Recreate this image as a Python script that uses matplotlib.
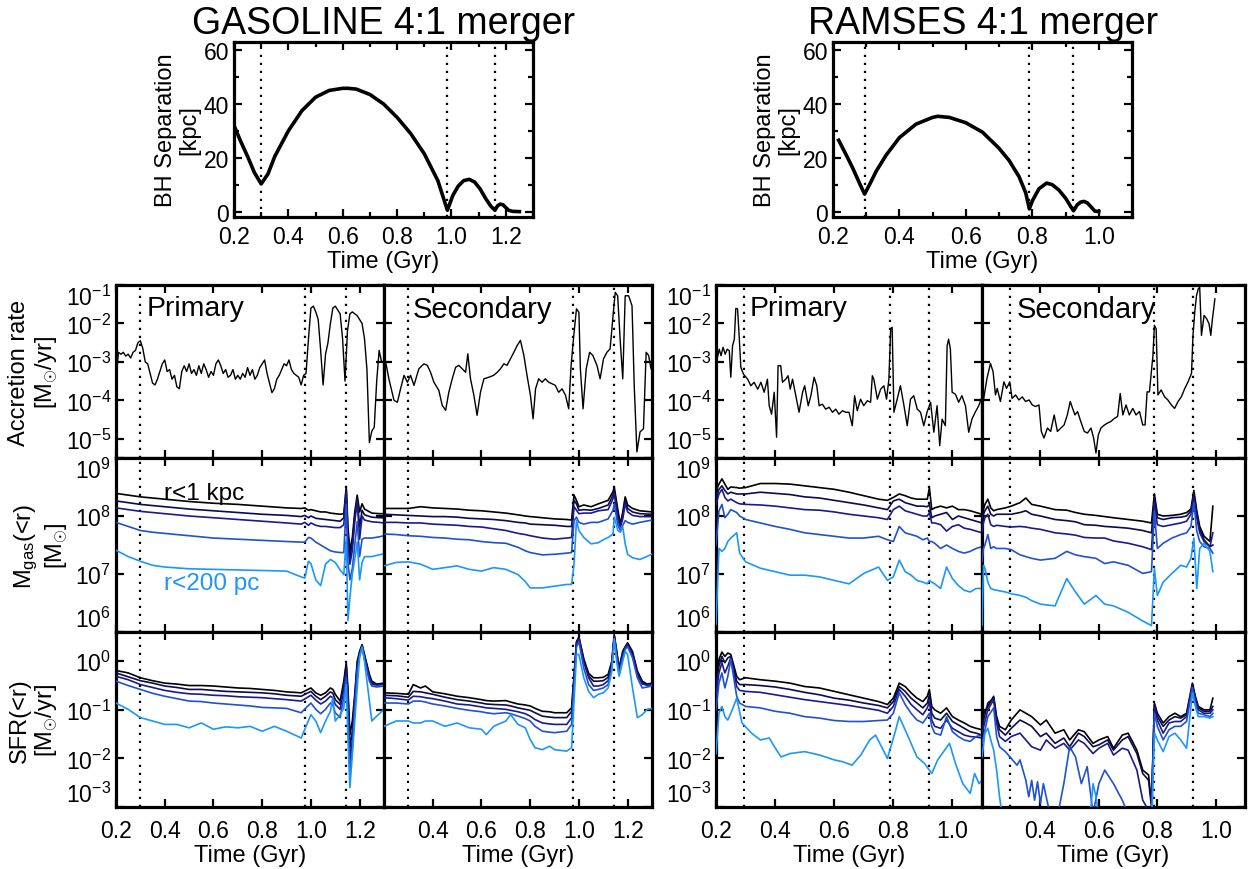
import numpy as np
import matplotlib
matplotlib.use("Agg")
import matplotlib.pyplot as plt
from matplotlib.ticker import (NullLocator, MultipleLocator, FixedLocator, NullFormatter,
                               FormatStrFormatter, LogFormatterSciNotation)

plt.rcParams['font.family'] = ['Liberation Sans', 'DejaVu Sans']
plt.rcParams['mathtext.fontset'] = 'custom'
plt.rcParams['mathtext.rm'] = 'Liberation Sans'
plt.rcParams['mathtext.it'] = 'Liberation Sans:italic'
plt.rcParams['mathtext.bf'] = 'Liberation Sans:bold'

# ---------------- data (times in Gyr, log10 values for the rate/mass panels) -------------
GAS_SEP_T = [0.20, 0.225, 0.25, 0.275, 0.30, 0.325, 0.35, 0.40, 0.45, 0.50, 0.55, 0.60, 0.62, 0.65,
             0.70, 0.75, 0.80, 0.85, 0.90, 0.95, 0.985, 1.005, 1.025, 1.045, 1.065, 1.085, 1.105,
             1.125, 1.145, 1.16, 1.17, 1.18, 1.19, 1.20, 1.21, 1.225, 1.25]
GAS_SEP = [32, 26, 20.5, 14.5, 10.3, 14, 20.5, 30, 37.5, 42.5, 45, 45.8, 45.8, 45.5, 43.5, 40, 35,
           29, 21.5, 11.5, 0.5, 6, 9.5, 11.5, 12, 11, 8.5, 5, 2, 0.5, 2.2, 2.8, 2.5, 1.5, 0.5, 0.1, 0]
RAM_SEP_T = [0.217, 0.24, 0.26, 0.28, 0.295, 0.31, 0.33, 0.36, 0.40, 0.45, 0.50, 0.515, 0.55, 0.60,
             0.65, 0.70, 0.73, 0.76, 0.78, 0.791, 0.80, 0.82, 0.843, 0.86, 0.88, 0.90, 0.915, 0.924,
             0.935, 0.945, 0.955, 0.965, 0.975, 0.988, 1.0]
RAM_SEP = [26.5, 21, 16, 10.5, 6.5, 10, 15, 21, 27.5, 32.5, 35, 35.4, 35, 33, 29.5, 23.5, 19, 13, 7,
           1, 4, 8.5, 10.6, 10, 8, 5, 2, 0.3, 2.5, 3.5, 3.8, 3.3, 2, 0.2, 0]

GAS_EVENTS_TOP = [0.30, 0.985, 1.16]
GAS_EVENTS = [0.30, 0.975, 1.145]
RAM_EVENTS = [0.295, 0.79, 0.922]

# accretion rate, log10(Msun/yr)
GP_ACC_T = np.round(np.arange(0.20, 1.295, 0.01), 2)
GP_ACC = [-3.5, -2.75, -2.8, -2.75, -2.85, -2.8, -2.9, -2.75, -2.7, -2.5,
          -2.45, -2.65, -3.0, -3.05, -3.3, -3.55, -3.6, -3.45, -3.25, -3.05,
          -2.95, -3.25, -3.2, -3.45, -3.35, -3.65, -3.7, -3.25, -3.1, -3.25,
          -3.05, -3.3, -3.2, -3.35, -3.1, -3.3, -3.05, -3.2, -3.4, -3.25,
          -3.35, -3.05, -2.95, -3.1, -3.3, -3.2, -3.4, -3.35, -3.2, -3.45,
          -3.35, -3.45, -3.3, -3.4, -3.15, -3.35, -3.2, -3.45, -3.35, -3.15,
          -3.05, -2.95, -3.3, -3.55, -3.8, -3.7, -3.45, -3.35, -3.2, -3.05,
          -3.1, -2.95, -3.2, -3.3, -3.35, -3.4, -3.6, -3.35, -3.3, -2.4,
          -1.6, -1.55, -1.7, -1.9, -2.7, -3.6, -2.8, -2.5, -2.0, -1.6,
          -1.55, -1.65, -1.75, -2.4, -3.5, -2.2, -1.75, -1.7, -1.75, -1.8,
          -1.9, -2.0, -2.4, -3.2, -5.1, -4.8, -4.7, -3.5, -2.7, -3.0]
GS_ACC_T = [0.207, 0.22, 0.241, 0.255, 0.268, 0.282, 0.296, 0.309, 0.323, 0.343, 0.364, 0.378, 0.391,
            0.405, 0.425, 0.439, 0.453, 0.466, 0.48, 0.494, 0.507, 0.521, 0.535, 0.544, 0.555, 0.569,
            0.582, 0.596, 0.61, 0.63, 0.65, 0.665, 0.678, 0.692, 0.705, 0.719, 0.733, 0.747, 0.76,
            0.774, 0.787, 0.801, 0.812, 0.822, 0.835, 0.849, 0.862, 0.876, 0.89, 0.903, 0.917, 0.931,
            0.945, 0.958, 0.968, 0.979, 0.99, 1.0, 1.006, 1.017, 1.03, 1.044, 1.057, 1.074, 1.087,
            1.101, 1.115, 1.128, 1.139, 1.149, 1.159, 1.17, 1.18, 1.19, 1.204, 1.218, 1.227, 1.238,
            1.251, 1.265, 1.276, 1.286, 1.296]
GS_ACC = [-3.01, -3.44, -4.0, -4.05, -3.70, -3.35, -3.53, -3.35, -3.61, -3.18, -3.05, -3.09, -3.27,
          -3.53, -3.74, -4.13, -4.26, -3.79, -3.44, -3.14, -3.09, -3.18, -3.27, -2.79, -3.44, -3.87,
          -4.39, -3.79, -3.44, -3.40, -3.35, -3.27, -3.18, -3.05, -3.09, -2.92, -2.75, -2.57, -2.44,
          -2.83, -3.35, -3.87, -4.48, -3.70, -3.44, -3.53, -3.44, -3.53, -3.57, -3.61, -3.79, -3.70,
          -3.87, -4.22, -3.09, -2.31, -1.62, -1.71, -3.18, -4.22, -3.18, -2.75, -2.83, -3.09, -3.44,
          -2.92, -2.75, -2.66, -1.88, -1.19, -1.28, -2.49, -3.44, -1.28, -1.28, -1.54, -3.61, -5.34,
          -4.82, -4.74, -2.75, -2.83, -3.18]
RP_ACC_T = [0.20, 0.211, 0.217, 0.224, 0.231, 0.238, 0.245, 0.25, 0.256, 0.262, 0.267, 0.273, 0.279,
            0.284, 0.293, 0.307, 0.318, 0.329, 0.341, 0.352, 0.363, 0.374, 0.38, 0.388, 0.397, 0.405,
            0.41, 0.419, 0.425, 0.436, 0.444, 0.451, 0.459, 0.47, 0.481, 0.493, 0.5, 0.512, 0.521,
            0.532, 0.541, 0.549, 0.56, 0.571, 0.583, 0.594, 0.605, 0.616, 0.628, 0.639, 0.65, 0.661,
            0.669, 0.678, 0.689, 0.7, 0.712, 0.723, 0.729, 0.734, 0.746, 0.757, 0.768, 0.777, 0.785,
            0.791, 0.796, 0.802, 0.813, 0.824, 0.836, 0.847, 0.858, 0.869, 0.881, 0.892, 0.903, 0.914,
            0.926, 0.937, 0.948, 0.957, 0.965, 0.976, 0.982, 0.987, 0.993, 0.999, 1.01, 1.021, 1.032,
            1.044, 1.055, 1.066, 1.077, 1.089, 1.097]
RP_ACC = [-3.06, -2.67, -2.84, -2.62, -2.80, -2.67, -2.71, -3.40, -2.58, -2.41, -1.61, -1.62, -2.41,
          -3.14, -3.32, -3.45, -3.62, -3.53, -3.71, -3.53, -3.79, -3.45, -4.14, -4.36, -3.79, -4.96,
          -3.10, -3.10, -3.53, -3.45, -3.36, -3.71, -3.45, -3.88, -4.31, -3.79, -3.62, -4.14, -3.88,
          -3.40, -3.62, -4.14, -4.10, -4.23, -4.18, -4.31, -4.23, -4.36, -4.27, -4.31, -4.31, -4.66,
          -3.88, -4.27, -3.97, -4.14, -4.01, -4.05, -3.36, -3.45, -3.97, -3.71, -3.62, -3.97, -3.45,
          -2.14, -2.10, -4.31, -3.97, -3.62, -4.14, -4.66, -3.97, -3.88, -4.23, -4.31, -4.66, -4.31,
          -4.05, -4.83, -4.14, -5.18, -4.49, -4.66, -2.58, -2.41, -2.67, -3.79, -3.84, -4.05, -3.88,
          -4.14, -4.83, -4.49, -4.31, -4.14, -3.97]
RS_ACC_T = [0.206, 0.217, 0.229, 0.238, 0.246, 0.252, 0.263, 0.275, 0.284, 0.295, 0.303, 0.315, 0.326,
            0.338, 0.349, 0.361, 0.372, 0.383, 0.395, 0.403, 0.412, 0.424, 0.435, 0.447, 0.458, 0.47,
            0.481, 0.492, 0.502, 0.51, 0.518, 0.527, 0.538, 0.55, 0.561, 0.573, 0.582, 0.59, 0.598,
            0.607, 0.619, 0.63, 0.641, 0.653, 0.664, 0.673, 0.682, 0.693, 0.704, 0.716, 0.727, 0.739,
            0.75, 0.758, 0.765, 0.773, 0.785, 0.79, 0.796, 0.802, 0.813, 0.825, 0.836, 0.848, 0.859,
            0.871, 0.882, 0.894, 0.905, 0.917, 0.922, 0.928, 0.934, 0.94, 0.945, 0.951, 0.96, 0.969,
            0.977, 0.983, 0.988, 0.997]
RS_ACC = [-3.95, -3.43, -3.04, -3.26, -3.86, -3.69, -4.03, -3.52, -3.69, -3.52, -3.95, -3.86, -3.99,
          -3.91, -4.03, -3.99, -4.12, -4.16, -4.12, -4.81, -4.98, -4.72, -4.81, -4.38, -4.81, -4.72,
          -4.64, -4.38, -4.03, -4.21, -4.38, -4.29, -4.55, -4.81, -4.85, -4.72, -4.98, -5.37, -4.90,
          -4.72, -4.64, -4.59, -4.55, -4.47, -4.42, -3.82, -4.38, -4.12, -4.38, -4.21, -4.38, -4.29,
          -4.64, -4.64, -3.78, -3.78, -2.83, -2.05, -2.14, -3.86, -3.73, -3.91, -3.99, -4.12, -4.21,
          -4.03, -3.91, -3.69, -3.52, -3.30, -2.31, -1.71, -1.28, -1.10, -1.06, -2.31, -1.79, -1.88,
          -2.01, -2.31, -1.92, -1.36]

# gas mass within r (r<1 kpc ... r<200 pc), log10(Msun)
GP_MGAS_T = [0.20, 0.25, 0.30, 0.35, 0.40, 0.50, 0.60, 0.70, 0.80, 0.90, 0.96, 0.975, 0.99, 1.00, 1.02,
             1.04, 1.06, 1.08, 1.10, 1.12, 1.135, 1.145, 1.152, 1.16, 1.17, 1.18, 1.19, 1.20, 1.21,
             1.22, 1.25, 1.28, 1.30]
GP_MGAS_1 = [8.39, 8.36, 8.33, 8.31, 8.29, 8.25, 8.22, 8.20, 8.17, 8.14, 8.13, 8.14, 8.10, 8.11, 8.09,
             8.07, 8.07, 8.05, 8.04, 8.03, 8.04, 8.50, 7.81, 7.40, 7.63, 8.07, 8.36, 8.07, 8.21, 8.12,
             8.05, 8.04, 8.04]
GP_MGAS_2 = [8.26, 8.23, 8.20, 8.18, 8.16, 8.12, 8.09, 8.06, 8.03, 8.01, 7.99, 8.01, 7.97, 8.00, 7.96,
             7.95, 7.94, 7.93, 7.92, 7.91, 7.97, 8.45, 7.69, 7.28, 7.52, 7.98, 8.30, 7.81, 8.10, 8.02,
             7.98, 7.97, 7.97]
GP_MGAS_3 = [8.14, 8.11, 8.08, 8.06, 8.04, 8.00, 7.97, 7.94, 7.91, 7.88, 7.86, 7.89, 7.84, 7.88, 7.84,
             7.82, 7.82, 7.81, 7.80, 7.80, 7.85, 8.40, 7.50, 7.17, 7.40, 7.90, 8.25, 7.60, 8.00, 7.93,
             7.90, 7.89, 7.88]
GP_MGAS_4 = [7.89, 7.82, 7.75, 7.72, 7.70, 7.66, 7.62, 7.60, 7.58, 7.56, 7.55, 7.55, 7.63, 7.62, 7.55,
             7.50, 7.45, 7.40, 7.38, 7.37, 7.37, 8.20, 7.20, 6.90, 7.10, 7.50, 7.90, 7.30, 7.60, 7.62,
             7.62, 7.64, 7.66]
GP_MGAS_5 = [7.41, 7.30, 7.22, 7.15, 7.12, 7.09, 7.08, 7.07, 7.06, 7.05, 6.95, 6.93, 7.22, 7.18, 6.90,
             6.80, 7.17, 7.25, 7.20, 7.07, 6.99, 7.60, 6.20, 6.60, 7.00, 7.25, 7.55, 6.90, 7.20, 7.30,
             7.30, 7.33, 7.35]

GS_MGAS_T = [0.20, 0.25, 0.30, 0.35, 0.40, 0.45, 0.50, 0.55, 0.60, 0.65, 0.70, 0.75, 0.78, 0.80, 0.85,
             0.90, 0.95, 0.97, 0.98, 0.99, 1.00, 1.02, 1.05, 1.08, 1.10, 1.12, 1.14, 1.145, 1.16, 1.17,
             1.18, 1.19, 1.20, 1.22, 1.25, 1.30]
GS_MGAS_1 = [8.13, 8.13, 8.13, 8.16, 8.14, 8.13, 8.12, 8.10, 8.09, 8.07, 8.05, 8.02, 8.00, 7.99, 7.97,
             7.95, 7.94, 7.93, 8.36, 8.27, 8.16, 8.19, 8.16, 8.21, 8.24, 8.27, 8.42, 8.50, 8.10, 7.86,
             8.07, 8.33, 8.19, 8.13, 8.09, 8.07]
GS_MGAS_2 = [8.03, 8.02, 8.01, 8.00, 7.99, 7.99, 7.98, 7.96, 7.95, 7.94, 7.92, 7.89, 7.88, 7.86, 7.85,
             7.84, 7.82, 7.82, 8.27, 8.21, 8.10, 8.11, 8.10, 8.13, 8.16, 8.19, 8.36, 8.45, 8.04, 7.84,
             8.01, 8.27, 8.13, 8.07, 8.04, 8.03]
GS_MGAS_3 = [7.89, 7.89, 7.88, 7.88, 7.86, 7.85, 7.84, 7.82, 7.81, 7.78, 7.75, 7.70, 7.68, 7.66, 7.62,
             7.60, 7.62, 7.63, 8.16, 8.10, 8.04, 8.05, 8.05, 8.09, 8.10, 8.11, 8.30, 8.39, 7.92, 7.81,
             7.95, 8.21, 8.07, 8.01, 7.99, 7.99]
GS_MGAS_4 = [7.69, 7.68, 7.66, 7.65, 7.63, 7.62, 7.60, 7.59, 7.56, 7.54, 7.53, 7.46, 7.40, 7.37, 7.33,
             7.34, 7.36, 7.37, 7.92, 7.98, 7.89, 7.86, 7.89, 7.89, 7.92, 7.95, 8.10, 8.21, 7.84, 7.75,
             7.84, 7.92, 7.89, 7.86, 7.89, 7.93]
GS_MGAS_5 = [7.14, 7.20, 7.21, 7.17, 7.08, 7.11, 7.14, 7.08, 7.05, 7.11, 7.08, 6.99, 6.87, 6.76, 6.76,
             6.79, 6.82, 6.82, 7.17, 7.92, 7.75, 7.63, 7.52, 7.54, 7.59, 7.63, 7.69, 7.98, 7.75, 7.72,
             7.81, 7.52, 7.34, 7.28, 7.25, 7.34]

RP_MGAS_T = [0.20, 0.21, 0.22, 0.23, 0.24, 0.25, 0.27, 0.28, 0.30, 0.35, 0.40, 0.45, 0.50, 0.55, 0.60,
             0.65, 0.70, 0.75, 0.78, 0.80, 0.82, 0.84, 0.86, 0.88, 0.90, 0.915, 0.922, 0.93, 0.94, 0.96,
             0.98, 1.00, 1.02, 1.04, 1.06, 1.08, 1.10]
RP_MGAS_1 = [8.44, 8.55, 8.64, 8.55, 8.46, 8.50, 8.49, 8.48, 8.49, 8.56, 8.56, 8.55, 8.52, 8.49, 8.46,
             8.41, 8.35, 8.29, 8.27, 8.32, 8.38, 8.35, 8.31, 8.29, 8.29, 8.29, 8.49, 8.11, 8.14, 8.17,
             8.14, 8.17, 8.11, 8.11, 8.09, 8.06, 8.03]
RP_MGAS_2 = [8.32, 8.46, 8.52, 8.44, 8.38, 8.41, 8.38, 8.38, 8.38, 8.41, 8.39, 8.37, 8.33, 8.31, 8.27,
             8.23, 8.19, 8.14, 8.11, 8.26, 8.29, 8.23, 8.20, 8.17, 8.17, 8.16, 8.20, 7.97, 8.00, 8.03,
             8.06, 7.94, 8.00, 7.97, 7.94, 7.91, 7.88]
RP_MGAS_3 = [8.20, 8.38, 8.46, 8.32, 8.26, 8.29, 8.23, 8.21, 8.20, 8.19, 8.17, 8.14, 8.11, 8.10, 8.07,
             8.03, 8.00, 7.97, 7.94, 8.11, 8.17, 8.09, 8.06, 8.03, 8.00, 8.00, 8.06, 7.88, 7.88, 7.85,
             7.74, 7.82, 7.85, 7.79, 7.77, 7.74, 7.71]
RP_MGAS_4 = [7.50, 8.09, 8.20, 7.97, 8.03, 8.11, 8.06, 8.00, 7.94, 7.88, 7.82, 7.77, 7.71, 7.68, 7.65,
             7.62, 7.62, 7.65, 7.59, 7.56, 7.82, 7.71, 7.68, 7.65, 7.59, 7.62, 7.56, 7.56, 7.53, 7.44,
             7.50, 7.44, 7.39, 7.36, 7.39, 7.44, 7.47]
RP_MGAS_5 = [6.13, 7.44, 7.39, 7.44, 7.56, 7.62, 7.71, 7.36, 7.21, 7.10, 7.04, 6.98, 6.98, 6.95, 6.89,
             6.83, 7.01, 7.12, 6.89, 6.95, 7.24, 7.04, 6.98, 6.89, 6.86, 6.83, 6.89, 6.86, 6.83, 6.75,
             7.12, 6.92, 6.80, 6.72, 6.69, 6.75, 6.75]

RS_MGAS_T = [0.20, 0.205, 0.21, 0.22, 0.23, 0.24, 0.25, 0.28, 0.30, 0.33, 0.35, 0.37, 0.40, 0.45, 0.49,
             0.52, 0.55, 0.59, 0.62, 0.65, 0.70, 0.75, 0.78, 0.79, 0.80, 0.82, 0.85, 0.88, 0.90, 0.915,
             0.925, 0.935, 0.945, 0.96, 0.98, 0.99]
RS_MGAS_1 = [8.03, 8.11, 8.20, 8.29, 8.14, 8.09, 8.11, 8.14, 8.17, 8.23, 8.31, 8.20, 8.17, 8.11, 8.10,
             8.06, 8.03, 8.01, 7.99, 7.97, 7.94, 7.91, 7.88, 8.38, 8.03, 8.00, 8.01, 8.03, 8.06, 8.12,
             8.44, 8.09, 7.82, 7.65, 7.56, 8.17]
RS_MGAS_2 = [7.94, 8.03, 8.09, 8.17, 8.03, 8.00, 8.03, 8.03, 8.03, 8.06, 8.09, 8.03, 8.00, 7.94, 7.92,
             7.90, 7.85, 7.84, 7.82, 7.81, 7.79, 7.75, 7.71, 8.32, 7.97, 7.94, 7.97, 7.98, 8.00, 8.09,
             8.38, 8.03, 7.77, 7.59, 7.47, 7.50]
RS_MGAS_3 = [7.74, 7.88, 7.97, 8.03, 7.85, 7.82, 7.84, 7.82, 7.81, 7.82, 7.81, 7.79, 7.77, 7.71, 7.69,
             7.67, 7.63, 7.62, 7.62, 7.57, 7.53, 7.47, 7.42, 8.23, 7.85, 7.82, 7.85, 7.88, 7.91, 8.03,
             8.32, 7.97, 7.71, 7.56, 7.47, 7.71]
RS_MGAS_4 = [7.21, 7.44, 7.50, 7.68, 7.44, 7.47, 7.44, 7.44, 7.42, 7.33, 7.30, 7.27, 7.24, 7.27, 7.39,
             7.33, 7.30, 7.27, 7.18, 7.21, 7.15, 7.01, 7.04, 8.09, 7.44, 7.53, 7.62, 7.68, 7.71, 7.82,
             8.23, 7.74, 7.56, 7.47, 7.44, 7.36]
RS_MGAS_5 = [6.11, 7.15, 7.10, 6.86, 6.75, 6.73, 6.72, 6.69, 6.66, 6.63, 6.60, 6.54, 6.48, 6.45, 6.92,
             6.69, 6.48, 6.63, 6.48, 6.45, 6.34, 6.19, 6.11, 7.10, 6.63, 6.86, 7.01, 7.15, 7.12, 7.27,
             7.62, 6.75, 7.44, 7.53, 7.39, 7.04]

# star formation rate within r, log10(Msun/yr)
GP_SFR_T = [0.20, 0.25, 0.30, 0.35, 0.40, 0.45, 0.50, 0.55, 0.60, 0.65, 0.70, 0.75, 0.80, 0.85, 0.90,
            0.96, 1.00, 1.02, 1.04, 1.06, 1.08, 1.09, 1.10, 1.12, 1.135, 1.145, 1.152, 1.16, 1.17, 1.18,
            1.19, 1.20, 1.21, 1.22, 1.24, 1.25, 1.27, 1.30]
GP_SFR_1 = [-0.19, -0.24, -0.34, -0.40, -0.45, -0.47, -0.50, -0.50, -0.51, -0.53, -0.55, -0.56, -0.58,
            -0.60, -0.63, -0.65, -0.55, -0.65, -0.70, -0.65, -0.55, -0.58, -0.68, -0.82, -0.41, -0.03,
            -0.55, -1.51, -1.23, -0.68, 0.0, 0.21, 0.34, 0.14, -0.27, -0.41, -0.47, -0.45]
GP_SFR_2 = [-0.24, -0.32, -0.40, -0.45, -0.51, -0.54, -0.58, -0.58, -0.60, -0.62, -0.63, -0.64, -0.65,
            -0.67, -0.70, -0.72, -0.62, -0.72, -0.79, -0.72, -0.63, -0.66, -0.79, -0.89, -0.48, -0.10,
            -0.68, -1.78, -1.44, -0.75, -0.07, 0.17, 0.33, 0.10, -0.31, -0.45, -0.48, -0.47]
GP_SFR_3 = [-0.31, -0.38, -0.48, -0.54, -0.60, -0.64, -0.67, -0.68, -0.70, -0.71, -0.73, -0.74, -0.75,
            -0.77, -0.79, -0.82, -0.70, -0.80, -0.88, -0.82, -0.72, -0.75, -0.89, -0.99, -0.58, -0.21,
            -0.82, -2.05, -1.64, -0.86, -0.14, 0.14, 0.31, 0.07, -0.34, -0.48, -0.49, -0.48]
GP_SFR_4 = [-0.41, -0.50, -0.58, -0.66, -0.72, -0.77, -0.82, -0.83, -0.86, -0.88, -0.90, -0.92, -0.95,
            -0.96, -0.97, -1.06, -0.86, -0.99, -1.08, -0.99, -0.86, -0.90, -1.06, -1.16, -0.75, -0.34,
            -1.03, -2.33, -1.85, -0.96, -0.21, 0.10, 0.29, 0.03, -0.41, -0.51, -0.53, -0.51]
GP_SFR_5 = [-0.86, -0.99, -1.16, -1.23, -1.30, -1.30, -1.37, -1.27, -1.40, -1.35, -1.37, -1.34, -1.44,
            -1.34, -1.44, -1.58, -1.10, -1.23, -1.47, -1.23, -1.03, -0.75, -1.23, -1.10, -0.96, -0.48,
            -1.58, -2.60, -1.92, -1.23, -0.55, 0.10, 0.29, 0.0, -0.82, -1.23, -1.13, -0.99]

GS_SFR_T = [0.20, 0.25, 0.30, 0.32, 0.35, 0.37, 0.40, 0.45, 0.50, 0.55, 0.60, 0.62, 0.65, 0.70, 0.72,
            0.75, 0.78, 0.80, 0.82, 0.85, 0.88, 0.90, 0.95, 0.97, 0.98, 0.99, 1.00, 1.02, 1.04, 1.06,
            1.08, 1.10, 1.12, 1.135, 1.145, 1.155, 1.165, 1.18, 1.19, 1.20, 1.22, 1.24, 1.26, 1.28, 1.30]
GS_SFR_1 = [-0.65, -0.66, -0.68, -0.48, -0.55, -0.51, -0.63, -0.67, -0.72, -0.75, -0.79, -0.81, -0.82,
            -0.81, -0.84, -0.88, -0.90, -0.92, -0.97, -1.03, -1.04, -1.06, -1.06, -0.96, -0.30, 0.40,
            0.50, 0.05, -0.25, -0.34, -0.34, -0.33, -0.27, 0.0, 0.55, 0.21, -0.14, 0.21, 0.30, 0.38,
            0.20, -0.20, -0.41, -0.47, -0.45]
GS_SFR_2 = [-0.70, -0.71, -0.74, -0.62, -0.63, -0.65, -0.68, -0.74, -0.79, -0.82, -0.86, -0.88, -0.89,
            -0.90, -0.92, -0.96, -0.99, -1.01, -1.06, -1.13, -1.15, -1.16, -1.16, -1.03, -0.35, 0.38,
            0.48, 0.02, -0.30, -0.41, -0.41, -0.40, -0.33, -0.03, 0.53, 0.18, -0.17, 0.18, 0.29, 0.36,
            0.17, -0.24, -0.45, -0.49, -0.47]
GS_SFR_3 = [-0.75, -0.77, -0.80, -0.72, -0.73, -0.75, -0.77, -0.82, -0.88, -0.90, -0.94, -0.96, -0.97,
            -0.99, -1.01, -1.04, -1.08, -1.13, -1.20, -1.27, -1.29, -1.30, -1.30, -1.16, -0.40, 0.36,
            0.46, -0.02, -0.34, -0.51, -0.51, -0.48, -0.40, -0.07, 0.51, 0.14, -0.21, 0.14, 0.28, 0.34,
            0.14, -0.27, -0.47, -0.49, -0.48]
GS_SFR_4 = [-0.86, -0.86, -0.88, -0.82, -0.82, -0.84, -0.88, -0.92, -0.97, -1.01, -1.04, -1.06, -1.08,
            -1.06, -1.08, -1.13, -1.18, -1.23, -1.34, -1.44, -1.46, -1.47, -1.44, -1.30, -0.55, 0.30,
            0.40, -0.14, -0.48, -0.60, -0.58, -0.55, -0.48, -0.14, 0.47, 0.07, -0.27, 0.07, 0.25, 0.30,
            0.07, -0.34, -0.55, -0.53, -0.51]
GS_SFR_5 = [-1.34, -1.23, -1.23, -1.27, -1.27, -1.23, -1.23, -1.34, -1.27, -1.37, -1.40, -1.51, -1.34,
            -1.23, -1.10, -1.30, -1.37, -1.61, -1.78, -1.82, -1.75, -1.82, -1.85, -1.78, -0.82, 0.14,
            0.14, -0.34, -0.62, -0.75, -0.68, -0.65, -0.55, -0.21, 0.45, 0.0, -0.31, 0.0, 0.20, 0.14,
            -0.55, -1.16, -1.10, -0.99, -0.97]

RP_SFR_T = RP_MGAS_T
RP_SFR_1 = [-0.38, 0.04, 0.19, 0.10, 0.17, 0.14, -0.31, -0.38, -0.34, -0.38, -0.41, -0.45, -0.52, -0.55,
            -0.62, -0.69, -0.76, -0.83, -0.89, -0.76, -0.45, -0.52, -0.65, -0.76, -0.83, -0.72, -0.58,
            -0.93, -1.00, -1.07, -0.96, -1.14, -1.21, -1.27, -1.34, -1.38, -1.41]
RP_SFR_2 = [-0.52, -0.10, 0.10, -0.03, 0.07, 0.10, -0.41, -0.48, -0.48, -0.50, -0.53, -0.58, -0.64,
            -0.69, -0.76, -0.80, -0.86, -0.91, -0.96, -0.83, -0.52, -0.62, -0.76, -0.86, -0.96, -0.86,
            -0.69, -1.07, -1.17, -1.21, -1.07, -1.24, -1.31, -1.38, -1.45, -1.48, -1.52]
RP_SFR_3 = [-0.69, -0.24, -0.03, -0.24, -0.10, 0.07, -0.52, -0.60, -0.62, -0.64, -0.69, -0.74, -0.79,
            -0.83, -0.87, -0.91, -0.96, -1.01, -1.07, -0.93, -0.58, -0.72, -0.89, -1.00, -1.10, -0.96,
            -0.83, -1.21, -1.34, -1.38, -1.21, -1.38, -1.45, -1.52, -1.55, -1.56, -1.58]
RP_SFR_4 = [-1.00, -0.45, -0.24, -0.55, -0.31, 0.04, -0.72, -0.86, -0.93, -0.96, -1.03, -1.07, -1.14,
            -1.17, -1.22, -1.24, -1.24, -1.22, -1.21, -1.07, -0.65, -0.89, -1.07, -1.21, -1.27, -1.14,
            -1.07, -1.34, -1.48, -1.52, -1.14, -1.45, -1.55, -1.62, -1.65, -1.55, -1.52]
RP_SFR_5_T = [0.20, 0.21, 0.22, 0.23, 0.24, 0.255, 0.27, 0.288, 0.32, 0.35, 0.38, 0.405, 0.42, 0.45,
              0.50, 0.55, 0.60, 0.63, 0.66, 0.69, 0.72, 0.74, 0.76, 0.78, 0.805, 0.82, 0.85, 0.88,
              0.905, 0.93, 0.95, 0.99, 1.01, 1.035, 1.06, 1.075, 1.09, 1.10]
RP_SFR_5 = [-1.90, -1.07, -0.93, -1.14, -1.21, -1.00, -0.76, -1.27, -1.48, -1.62, -1.58, -1.83, -1.97,
            -1.90, -1.86, -1.93, -2.03, -2.07, -2.14, -1.93, -1.62, -1.52, -1.76, -2.00, -1.48, -1.14,
            -1.55, -1.97, -2.10, -2.31, -2.03, -1.69, -2.10, -2.52, -2.72, -2.31, -2.52, -2.45]

RS_SFR_T = [0.20, 0.22, 0.24, 0.25, 0.26, 0.28, 0.30, 0.33, 0.35, 0.37, 0.40, 0.42, 0.45, 0.48, 0.50,
            0.53, 0.55, 0.58, 0.60, 0.63, 0.65, 0.68, 0.70, 0.73, 0.75, 0.77, 0.78, 0.79, 0.80, 0.82,
            0.84, 0.86, 0.88, 0.90, 0.92, 0.93, 0.94, 0.96, 0.98, 0.99]
RS_SFR_1 = [-1.14, -0.93, -0.72, -1.14, -1.34, -1.41, -1.21, -1.00, -1.07, -1.14, -1.31, -1.21, -1.48,
            -1.41, -1.62, -1.41, -1.45, -1.69, -1.62, -1.55, -1.79, -1.52, -1.48, -1.83, -2.24, -2.34,
            -2.93, -0.86, -1.07, -1.27, -1.14, -1.07, -1.14, -1.07, -0.45, -0.72, -0.93, -1.00, -1.00,
            -0.76]
RS_SFR_2 = [-1.34, -0.86, -0.76, -1.21, -1.41, -1.52, -1.38, -1.21, -1.27, -1.34, -1.55, -1.48, -1.69,
            -1.58, -1.76, -1.48, -1.55, -1.76, -1.72, -1.62, -1.83, -1.62, -1.55, -1.90, -2.31, -2.45,
            -3.00, -0.89, -1.14, -1.34, -1.21, -1.14, -1.17, -1.10, -0.48, -0.76, -0.96, -1.03, -1.03,
            -0.93]
RS_SFR_3 = [-1.48, -1.00, -0.79, -1.27, -1.55, -1.65, -1.55, -1.48, -1.62, -1.76, -1.83, -1.62, -1.79,
            -1.69, -1.83, -1.62, -1.69, -1.90, -1.79, -1.69, -1.93, -1.79, -1.83, -2.24, -2.86, -3.07,
            -3.20, -0.96, -1.21, -1.48, -1.27, -1.24, -1.24, -1.14, -0.52, -0.79, -1.00, -1.07, -1.07,
            -1.00]
RS_SFR_4_T = [0.20, 0.22, 0.24, 0.25, 0.26, 0.28, 0.30, 0.32, 0.33, 0.35, 0.36, 0.37, 0.38, 0.39, 0.40,
              0.41, 0.43, 0.46, 0.48, 0.50, 0.52, 0.54, 0.56, 0.58, 0.60, 0.62, 0.65, 0.68, 0.70, 0.75,
              0.78, 0.79, 0.80, 0.82, 0.84, 0.86, 0.88, 0.90, 0.92, 0.93, 0.94, 0.96, 0.98, 0.99]
RS_SFR_4 = [-1.69, -1.14, -0.96, -1.55, -1.76, -1.86, -2.00, -2.14, -2.03, -2.45, -2.79, -2.45, -2.86,
            -2.48, -2.93, -2.52, -3.07, -3.14, -2.52, -1.76, -1.97, -2.52, -2.17, -3.14, -2.52, -2.24,
            -2.52, -2.86, -3.14, -3.20, -3.20, -1.07, -1.34, -1.62, -1.41, -1.34, -1.34, -1.24, -0.55,
            -0.86, -1.07, -1.10, -1.14, -1.07]
RS_SFR_5_T = [0.20, 0.21, 0.22, 0.23, 0.24, 0.25, 0.26, 0.27, 0.30, 0.40, 0.50, 0.55, 0.57, 0.58, 0.59,
              0.60, 0.65, 0.75, 0.78, 0.79, 0.80, 0.82, 0.84, 0.86, 0.88, 0.90, 0.92, 0.93, 0.94, 0.96,
              0.98, 0.99]
RS_SFR_5 = [-1.97, -1.48, -1.38, -1.62, -1.83, -2.24, -2.79, -3.20, -3.55, -3.55, -3.55, -3.55, -3.20,
            -2.52, -2.79, -3.20, -3.55, -3.55, -3.55, -1.48, -1.62, -1.86, -1.55, -1.48, -1.62, -1.79,
            -0.65, -0.93, -1.14, -1.14, -1.17, -1.14]

RADIUS_COLORS = ['#000000', '#0b0b4e', '#1a1a8e', '#1f52cc', '#1c96fa']

TICK_FS = 16.5
LABEL_FS = 17

# ---------------- layout (pixel boxes of the reference) ----------------
W, H = 1249, 870
fig = plt.figure(figsize=(W / 100, H / 100), dpi=100)


def box(x0, y0, x1, y1):
    return fig.add_axes([x0 / W, 1 - y1 / H, (x1 - x0) / W, (y1 - y0) / H])


def style(ax):
    for s in ax.spines.values():
        s.set_linewidth(2.3)
    ax.tick_params(which='both', direction='in', top=True, right=True, width=1.6, labelsize=TICK_FS)
    ax.tick_params(which='major', length=6)
    ax.tick_params(which='minor', length=3.5)
    ax.tick_params(axis='x', pad=6)


def events(ax, ts):
    for t in ts:
        ax.axvline(t, color='black', lw=1.6, ls=(0, (1, 2.6)), zorder=1)


def top_panel(x0, x1, t, sep, xmax, ev, title):
    ax = box(x0, 43, x1, 218)
    style(ax)
    ax.plot(t, sep, color='black', lw=2.6, zorder=3)
    events(ax, ev)
    ax.set_xlim(0.2, xmax)
    ax.set_ylim(-2, 63)
    ax.xaxis.set_major_locator(MultipleLocator(0.2))
    ax.xaxis.set_minor_locator(MultipleLocator(0.1))
    ax.xaxis.set_major_formatter(FormatStrFormatter('%.1f'))
    ax.yaxis.set_major_locator(FixedLocator([0, 20, 40, 60]))
    ax.yaxis.set_minor_locator(MultipleLocator(10))
    ax.set_xlabel('Time (Gyr)', fontsize=LABEL_FS, labelpad=1)
    ax.set_ylabel('BH Separation\n[kpc]', fontsize=LABEL_FS, labelpad=2, linespacing=1.1)
    fig.text((x0 + x1) / 2 / W, 1 - 24 / H, title, ha='center', va='center', fontsize=27)
    return ax


top_panel(234, 533, GAS_SEP_T, GAS_SEP, 1.3, GAS_EVENTS_TOP, 'GASOLINE 4:1 merger')
top_panel(833, 1132, RAM_SEP_T, RAM_SEP, 1.1, RAM_EVENTS, 'RAMSES 4:1 merger')

ROWS = [(286, 459), (459, 633), (633, 808)]
YLIMS = [(10 ** -5.5, 10 ** -1), (1e6, 1e9), (1e-3, 4)]
YTICKS = [[1e-5, 1e-4, 1e-3, 1e-2, 1e-1], [1e6, 1e7, 1e8, 1e9], [1e-3, 1e-2, 1e-1, 1e0]]
# vertical alignment of the lowest / highest tick label so end labels stay inside the row
YTICK_ENDS = [(None, 'top'), ('bottom', 'top'), ('bottom', None)]
YLABELS = ['Accretion rate\n[M$_{\\odot}$/yr]',
           'M$_{\\rm gas}$(<r)\n[M$_{\\odot}$]',
           'SFR(<r)\n[M$_{\\odot}$/yr]']


def lower_panel(col, row, xmax, xticks, ev, show_ylab, show_yticks):
    x0, x1 = col
    y0, y1 = ROWS[row]
    ax = box(x0, y0, x1, y1)
    style(ax)
    ax.set_yscale('log')
    ax.set_xlim(0.2, xmax)
    ax.set_ylim(*YLIMS[row])
    ax.yaxis.set_major_locator(FixedLocator(YTICKS[row]))
    ax.yaxis.set_minor_locator(NullLocator())
    ax.xaxis.set_major_locator(FixedLocator(xticks))
    ax.xaxis.set_minor_locator(NullLocator())
    ax.xaxis.set_major_formatter(FormatStrFormatter('%.1f'))
    if row < 2:
        ax.xaxis.set_major_formatter(NullFormatter())
    else:
        ax.tick_params(axis='x', pad=9)
        ax.set_xlabel('Time (Gyr)', fontsize=LABEL_FS, labelpad=1)
    if show_yticks:
        ax.yaxis.set_major_formatter(LogFormatterSciNotation())
        ticks = ax.yaxis.get_major_ticks(len(YTICKS[row]))
        lo, hi = YTICK_ENDS[row]
        if lo:
            ticks[0].label1.set_verticalalignment(lo)
        if hi:
            ticks[-1].label1.set_verticalalignment(hi)
    else:
        ax.yaxis.set_major_formatter(NullFormatter())
    if show_ylab:
        ax.set_ylabel(YLABELS[row], fontsize=LABEL_FS, linespacing=1.15, labelpad=4)
    events(ax, ev)
    return ax


def radial(ax, t, curves, lw=1.2):
    for vals, c in zip(curves, RADIUS_COLORS):
        ax.plot(t, 10 ** np.array(vals), color=c, lw=lw, zorder=3)


GP, GS = (116, 384), (384, 652)
RP, RS = (716, 982), (982, 1245)
G_TICKS_P = [0.2, 0.4, 0.6, 0.8, 1.0, 1.2]
G_TICKS_S = [0.4, 0.6, 0.8, 1.0, 1.2]
R_TICKS_P = [0.2, 0.4, 0.6, 0.8, 1.0]
R_TICKS_S = [0.4, 0.6, 0.8, 1.0]

# accretion rates
ax = lower_panel(GP, 0, 1.3, G_TICKS_P, GAS_EVENTS, True, True)
ax.plot(GP_ACC_T, 10 ** np.array(GP_ACC), color='black', lw=1.0, zorder=3)
ax.text(0.115, 0.94, 'Primary', transform=ax.transAxes, ha='left', va='top', fontsize=20.5)
ax = lower_panel(GS, 0, 1.3, G_TICKS_S, GAS_EVENTS, False, False)
ax.plot(GS_ACC_T, 10 ** np.array(GS_ACC), color='black', lw=1.0, zorder=3)
ax.text(0.108, 0.94, 'Secondary', transform=ax.transAxes, ha='left', va='top', fontsize=21)
ax = lower_panel(RP, 0, 1.1, R_TICKS_P, RAM_EVENTS, False, True)
ax.plot(RP_ACC_T, 10 ** np.array(RP_ACC), color='black', lw=1.0, zorder=3)
ax.text(0.128, 0.94, 'Primary', transform=ax.transAxes, ha='left', va='top', fontsize=20.5)
ax = lower_panel(RS, 0, 1.1, R_TICKS_S, RAM_EVENTS, False, False)
ax.plot(RS_ACC_T, 10 ** np.array(RS_ACC), color='black', lw=1.0, zorder=3)
ax.text(0.133, 0.94, 'Secondary', transform=ax.transAxes, ha='left', va='top', fontsize=21)

# gas masses
ax = lower_panel(GP, 1, 1.3, G_TICKS_P, GAS_EVENTS, True, True)
radial(ax, GP_MGAS_T, [GP_MGAS_1, GP_MGAS_2, GP_MGAS_3, GP_MGAS_4, GP_MGAS_5])
ax.text(0.395, 10 ** 8.40, 'r<1 kpc', color='black', ha='left', va='center', fontsize=17.5)
ax.text(0.395, 10 ** 6.85, 'r<200 pc', color=RADIUS_COLORS[4], ha='left', va='center', fontsize=17.5)
ax = lower_panel(GS, 1, 1.3, G_TICKS_S, GAS_EVENTS, False, False)
radial(ax, GS_MGAS_T, [GS_MGAS_1, GS_MGAS_2, GS_MGAS_3, GS_MGAS_4, GS_MGAS_5])
ax = lower_panel(RP, 1, 1.1, R_TICKS_P, RAM_EVENTS, False, True)
radial(ax, RP_MGAS_T, [RP_MGAS_1, RP_MGAS_2, RP_MGAS_3, RP_MGAS_4, RP_MGAS_5])
ax = lower_panel(RS, 1, 1.1, R_TICKS_S, RAM_EVENTS, False, False)
radial(ax, RS_MGAS_T, [RS_MGAS_1, RS_MGAS_2, RS_MGAS_3, RS_MGAS_4, RS_MGAS_5])

# star formation rates
ax = lower_panel(GP, 2, 1.3, G_TICKS_P, GAS_EVENTS, True, True)
radial(ax, GP_SFR_T, [GP_SFR_1, GP_SFR_2, GP_SFR_3, GP_SFR_4, GP_SFR_5])
ax = lower_panel(GS, 2, 1.3, G_TICKS_S, GAS_EVENTS, False, False)
radial(ax, GS_SFR_T, [GS_SFR_1, GS_SFR_2, GS_SFR_3, GS_SFR_4, GS_SFR_5])
ax = lower_panel(RP, 2, 1.1, R_TICKS_P, RAM_EVENTS, False, True)
radial(ax, RP_SFR_T, [RP_SFR_1, RP_SFR_2, RP_SFR_3, RP_SFR_4])
ax.plot(RP_SFR_5_T, 10 ** np.array(RP_SFR_5), color=RADIUS_COLORS[4], lw=1.2, zorder=3)
ax = lower_panel(RS, 2, 1.1, R_TICKS_S, RAM_EVENTS, False, False)
radial(ax, RS_SFR_T, [RS_SFR_1, RS_SFR_2, RS_SFR_3])
ax.plot(RS_SFR_4_T, 10 ** np.array(RS_SFR_4), color=RADIUS_COLORS[3], lw=1.2, zorder=3)
ax.plot(RS_SFR_5_T, 10 ** np.array(RS_SFR_5), color=RADIUS_COLORS[4], lw=1.2, zorder=3)

fig.savefig('out.png', dpi=100)
